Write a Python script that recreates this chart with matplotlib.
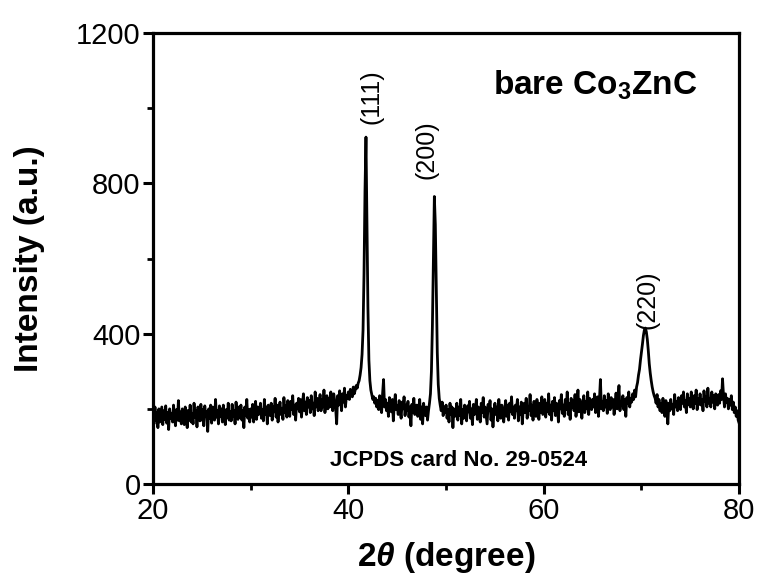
import numpy as np
import matplotlib
matplotlib.use('Agg')
import matplotlib.pyplot as plt
from matplotlib.ticker import MultipleLocator

plt.rcParams['font.family'] = ['Liberation Sans', 'DejaVu Sans']
plt.rcParams['mathtext.fontset'] = 'custom'
plt.rcParams['mathtext.rm'] = 'Liberation Sans'
plt.rcParams['mathtext.it'] = 'Liberation Sans:bold:italic'
plt.rcParams['mathtext.bf'] = 'Liberation Sans:bold'
plt.rcParams['mathtext.default'] = 'regular'

# 2theta grid (0.1 degree step) and intensities
two_theta = np.round(np.arange(20, 80.001, 0.1), 1)
intensity = [
    195, 160, 205, 170, 190, 150, 200, 165, 185, 205,
    158, 195, 172, 208, 162, 190, 145, 200, 175, 188,
    165, 210, 178, 155, 198, 170, 222, 168, 192, 160,
    200, 175, 158, 205, 182, 150, 196, 170, 210, 165,
    188, 160, 215, 178, 195, 152, 205, 185, 168, 212,
    170, 198, 155, 208, 180, 192, 140, 200, 175, 210,
    162, 205, 185, 170, 225, 178, 195, 160, 208, 180,
    200, 165, 210, 182, 158, 198, 176, 215, 170, 192,
    168, 212, 180, 195, 160, 218, 185, 172, 205, 178,
    210, 170, 195, 150, 205, 182, 225, 175, 198, 165,
    200, 178, 212, 165, 195, 220, 172, 205, 185, 190,
    215, 175, 198, 168, 225, 185, 205, 160, 210, 190,
    182, 215, 170, 205, 192, 228, 178, 210, 165, 200,
    218, 185, 200, 172, 230, 190, 208, 178, 222, 195,
    180, 220, 198, 235, 185, 210, 170, 215, 200, 228,
    192, 225, 178, 212, 240, 195, 218, 185, 230, 205,
    222, 190, 235, 200, 215, 182, 245, 205, 228, 195,
    210, 238, 195, 225, 205, 250, 190, 220, 235, 200,
    228, 205, 245, 215, 195, 240, 222, 200, 160, 235,
    210, 248, 225, 195, 240, 218, 255, 205, 235, 228,
    245, 225, 252, 238, 232, 258, 240, 250, 262, 255,
    268, 275, 290, 310, 345, 410, 560, 780, 923, 700,
    470, 330, 275, 250, 238, 225, 232, 215, 228, 205,
    222, 198, 235, 210, 190, 240, 278, 205, 225, 195,
    215, 180, 230, 205, 192, 225, 168, 212, 238, 198,
    208, 185, 222, 195, 175, 218, 200, 232, 182, 210,
    195, 220, 178, 205, 155, 212, 190, 228, 185, 200,
    210, 180, 198, 225, 172, 205, 160, 215, 190, 182,
    205, 170, 195, 215, 240, 300, 420, 600, 765, 690,
    520, 350, 265, 228, 210, 195, 218, 182, 205, 190,
    210, 175, 198, 165, 215, 185, 205, 150, 200, 180,
    192, 215, 170, 205, 182, 225, 160, 198, 175, 210,
    185, 168, 208, 192, 220, 175, 200, 158, 212, 185,
    198, 225, 172, 205, 185, 165, 215, 190, 230, 178,
    205, 182, 160, 212, 195, 222, 170, 200, 152, 190,
    215, 185, 205, 168, 225, 190, 175, 210, 195, 165,
    200, 222, 180, 210, 170, 215, 192, 232, 185, 205,
    175, 210, 195, 225, 168, 205, 185, 218, 160, 200,
    215, 190, 228, 175, 205, 195, 238, 182, 210, 170,
    220, 195, 180, 225, 205, 172, 215, 190, 232, 185,
    205, 225, 178, 215, 192, 240, 185, 210, 170, 220,
    195, 230, 182, 215, 205, 165, 222, 200, 238, 188,
    210, 180, 225, 198, 245, 185, 215, 172, 228, 205,
    222, 195, 238, 180, 210, 250, 192, 225, 205, 175,
    215, 235, 190, 220, 200, 245, 185, 228, 210, 198,
    225, 205, 240, 190, 215, 232, 180, 225, 278, 200,
    218, 195, 235, 205, 222, 188, 240, 210, 198, 230,
    205, 225, 185, 215, 242, 200, 228, 262, 195, 220,
    210, 235, 198, 225, 180, 230, 215, 245, 205, 228,
    218, 240, 225, 250, 232, 258, 270, 290, 305, 330,
    350, 372, 395, 410, 415, 405, 385, 355, 320, 295,
    275, 258, 245, 235, 228, 215, 238, 205, 225, 195,
    215, 190, 228, 200, 180, 222, 205, 160, 215, 195,
    225, 200, 212, 185, 238, 205, 220, 195, 230, 210,
    198, 235, 215, 245, 205, 222, 190, 240, 212, 228,
    205, 245, 218, 200, 235, 215, 250, 198, 228, 212,
    240, 210, 225, 195, 248, 220, 232, 205, 255, 215,
    228, 205, 245, 218, 235, 200, 240, 222, 210, 238,
    215, 248, 225, 280, 235, 205, 240, 218, 228, 200,
    225, 210, 235, 198, 218, 190, 205, 180, 195, 170,
    162,
]

peak_labels = ['(111)', '(200)', '(220)']
peak_x = [42.4, 48.0, 70.6]
peak_y = [1030, 890, 490]

fig = plt.figure(figsize=(7.62, 5.85), dpi=100)
ax = fig.add_axes([0.2008, 0.1726, 0.7692, 0.771])

ax.plot(two_theta, intensity, color='black', lw=2.0)

ax.set_xlim(20, 80)
ax.set_ylim(0, 1200)
ax.xaxis.set_major_locator(MultipleLocator(20))
ax.xaxis.set_minor_locator(MultipleLocator(10))
ax.yaxis.set_major_locator(MultipleLocator(400))
ax.yaxis.set_minor_locator(MultipleLocator(200))

for s in ax.spines.values():
    s.set_linewidth(2.3)
ax.tick_params(which='major', direction='out', length=7, width=2.2, labelsize=21, pad=2)
ax.tick_params(which='minor', direction='out', length=4, width=2)

ax.set_xlabel(r'2$\mathit{\theta}$ (degree)', fontsize=24, fontweight='bold', labelpad=11)
ax.set_ylabel('Intensity (a.u.)', fontsize=24, fontweight='bold', labelpad=22)

for lbl, px, py in zip(peak_labels, peak_x, peak_y):
    ax.text(px, py, lbl, rotation=90, ha='center', va='center', fontsize=18)

ax.text(54.8, 1062, 'bare Co$_3$ZnC', fontsize=24, fontweight='bold', ha='left', va='center')
ax.text(51.3, 62, 'JCPDS card No. 29-0524', fontsize=16, fontweight='bold', ha='center', va='center')

fig.savefig('out.png', dpi=100)
